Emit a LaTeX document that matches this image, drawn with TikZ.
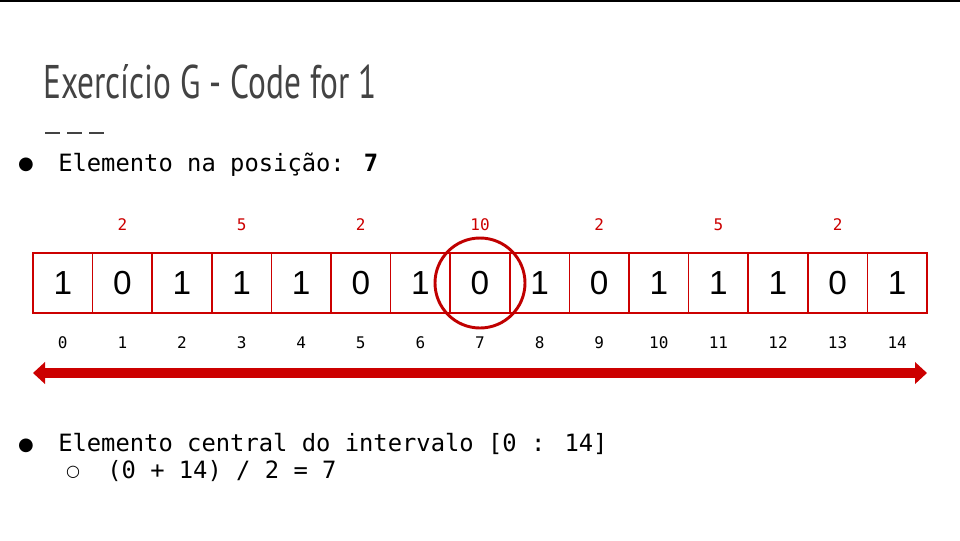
\documentclass[tikz,border=0pt]{standalone}
\usepackage{fontspec}
\setmainfont{Liberation Sans}
\newfontfamily\monof{DejaVu Sans Mono}
\newfontfamily\symf{DejaVu Sans}
\newfontfamily\titlef{PT Sans}
\usetikzlibrary{arrows.meta}
\definecolor{cellred}{HTML}{CC0000}
\definecolor{circred}{HTML}{C00000}
\definecolor{titlegray}{HTML}{434343}
\tikzset{
  cell/.style={draw=cellred, line width=1.1pt, minimum width=44.7pt, minimum height=45pt,
    inner sep=0pt, outer sep=0pt, font=\fontsize{25}{30}\selectfont},
  idx/.style={inner sep=0pt, font=\monof\fontsize{12}{14}\selectfont},
  topnum/.style={inner sep=0pt, text=cellred, font=\monof\fontsize{12}{14}\selectfont},
  bodytext/.style={inner sep=0pt, anchor=base west, font=\monof\fontsize{17.85}{22}\selectfont},
  bulletmark/.style={inner sep=0pt, font=\symf\fontsize{13.5}{16}\selectfont},
  bigarrow/.style={draw=cellred, line width=6.8pt,
    {Triangle[length=9pt,width=16pt]}-{Triangle[length=9pt,width=16pt]}},
  hlcircle/.style={draw=circred, line width=2.2pt, circle, minimum size=67.5pt, inner sep=0pt},
  titledash/.style={draw=titlegray, line width=1.2pt}
}
\begin{document}
\begin{tikzpicture}[x=0.75pt, y=-0.75pt]
\path[use as bounding box] (0,0) rectangle (960,540);
\fill[black] (0,0) rectangle (960,1.6);
% title
\node[inner sep=0pt, anchor=base west, text=titlegray] (title) at (43,98)
  {\resizebox{250pt}{25.5pt}{\titlef Exercício G - Code for 1}};
\draw[titledash] (45,133) -- (60,133);
\draw[titledash] (67,133) -- (82,133);
\draw[titledash] (89,133) -- (104,133);
% first bullet
\node[bulletmark] (bul1) at (26,165) {●};
\node[bodytext] (line1) at (58,171.5) {Elemento na posição: {\bfseries 7}};
% cells
\foreach \v [count=\n from 0] in {1,0,1,1,1,0,1,0,1,0,1,1,1,0,1} {
  \node[cell] (c\n) at ({33+59.6*(\n+0.5)},283) {\v};
  \node[idx] (i\n) at ({33+59.6*(\n+0.5)},343) {\n};
}
% top numbers
\foreach \k/\t in {1/2,3/5,5/2,7/10,9/2,11/5,13/2} {
  \node[topnum] (t\k) at ({33+59.6*(\k+0.5)},225) {\t};
}
% highlight circle
\node[hlcircle] (hl) at (c7.center) {};
% arrow
\coordinate (aL) at (33,373);
\coordinate (aR) at (927,373);
\draw[bigarrow] (aL) -- (aR);
% second bullet
\node[bulletmark] (bul2) at (26,446) {●};
\node[bodytext] (line2) at (58,451.7) {Elemento central do intervalo [0 : 14]};
\node[bulletmark, font=\symf\fontsize{12}{14}\selectfont] (bul3) at (73,472) {○};
\node[bodytext] (line3) at (107,478.5) {(0 + 14) / 2 = 7};
\end{tikzpicture}
\end{document}
